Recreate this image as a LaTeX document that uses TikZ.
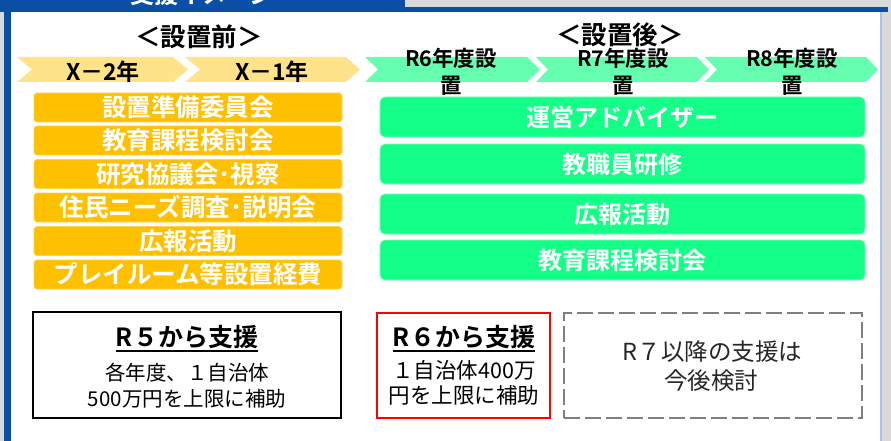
\documentclass[tikz,border=0pt]{standalone}
\usepackage{fontspec}
\setmainfont{Noto Sans CJK JP}[BoldFont={Noto Sans CJK JP Bold}]
\definecolor{pagegray}{HTML}{D9D9D9}
\definecolor{frameblue}{HTML}{0A4FA3}
\definecolor{lightframe}{HTML}{A9C4E8}
\definecolor{chevyellow}{HTML}{FFE38A}
\definecolor{chevgreen}{HTML}{66FFB0}
\definecolor{boxorange}{HTML}{FFC000}
\definecolor{boxgreen}{HTML}{14FF87}
\definecolor{dashgray}{HTML}{7F7F7F}
\tikzset{
  headtext/.style={inner sep=0pt, font=\bfseries\fontsize{25.5}{25.5}\selectfont},
  chevtext/.style={inner sep=0pt, font=\bfseries\fontsize{23}{23}\selectfont},
  chevgtext/.style={inner sep=0pt, align=center, font=\bfseries\fontsize{21.5}{27}\selectfont},
  obox/.style={fill=boxorange, draw=boxorange!70!white, line width=0.6pt, rounded corners=3pt,
    minimum width=308pt, minimum height=29pt, inner sep=0pt, text=white,
    font=\bfseries\fontsize{24.5}{24.5}\selectfont},
  gbox/.style={fill=boxgreen, draw=boxgreen!60!white, line width=0.6pt, rounded corners=5pt,
    minimum width=485pt, minimum height=40pt, inner sep=0pt, text=white,
    font=\bfseries\fontsize{24}{24}\selectfont},
  supbox/.style={inner sep=0pt, line width=2pt},
  suptitle/.style={inner sep=0pt, font=\bfseries\fontsize{25}{25}\selectfont},
  suptext/.style={inner sep=0pt, align=center, font=\fontsize{20.5}{20.5}\selectfont},
  dashtext/.style={inner sep=0pt, text=black!85, font=\fontsize{23.5}{23.5}\selectfont},
  ulinestyle/.style={line width=1.5pt},
}
\begin{document}
\begin{tikzpicture}[x=1pt,y=-1pt]
\useasboundingbox (0,0) rectangle (891,441);
% frame
\fill[pagegray] (0,0) rectangle (891,441);
\fill[white] (11,12) rectangle (880,441);
\fill[frameblue] (0,0) rectangle (405,7);
\fill[frameblue] (0,7) rectangle (888,12);
\fill[frameblue] (4,12) rectangle (11,441);
\fill[lightframe] (879.5,12) rectangle (881.5,441);
\begin{scope}
  \clip (0,0) rectangle (405,7);
  \node[inner sep=0pt, text=white, font=\bfseries\fontsize{24}{24}\selectfont] (title) at (202,-6) {支援イメージ};
\end{scope}
% headings
\node[headtext] (before) at (199,36.5) {＜設置前＞};
\node[headtext] (after) at (620,35) {＜設置後＞};
% chevrons
\fill[chevyellow] (17,57) -- (173,57) -- (188,69.5) -- (173,82) -- (17,82) -- (32,69.5) -- cycle;
\fill[chevyellow] (185,57) -- (346,57) -- (360,69.5) -- (346,82) -- (185,82) -- (200,69.5) -- cycle;
\fill[chevgreen] (365,57) -- (527,57) -- (540,69.5) -- (527,82) -- (365,82) -- (378,69.5) -- cycle;
\fill[chevgreen] (536,57) -- (697,57) -- (709,69.5) -- (697,82) -- (536,82) -- (548,69.5) -- cycle;
\fill[chevgreen] (705,57) -- (866,57) -- (878,69.5) -- (866,82) -- (705,82) -- (717,69.5) -- cycle;
\node[chevtext] (xm2) at (103,72) {X－2年};
\node[chevtext] (xm1) at (272,72) {X－1年};
\node[chevgtext] (r6) at (451,71.5) {R6年度設\\置};
\node[chevgtext] (r7) at (623,71.5) {R7年度設\\置};
\node[chevgtext] (r8) at (792,71.5) {R8年度設\\置};
% orange boxes
\node[obox] (o1) at (188,107.5) {設置準備委員会};
\node[obox] (o2) at (188,140.5) {教育課程検討会};
\node[obox] (o3) at (188,174) {研究協議会･視察};
\node[obox] (o4) at (188,207.5) {住民ニーズ調査･説明会};
\node[obox] (o5) at (188,241) {広報活動};
\node[obox] (o6) at (188,274.5) {プレイルーム等設置経費};
% green boxes
\node[gbox] (g1) at (622.5,117) {運営アドバイザー};
\node[gbox] (g2) at (622.5,164) {教職員研修};
\node[gbox] (g3) at (622.5,214) {広報活動};
\node[gbox] (g4) at (622.5,260) {教育課程検討会};
% support boxes
\node[supbox, draw=black, minimum width=308pt, minimum height=106pt] (s1) at (187,365) {};
\node[supbox, draw=red, minimum width=173pt, minimum height=105pt] (s2) at (463.5,365.5) {};
\node[supbox, draw=dashgray, line width=1.6pt, dash pattern=on 16pt off 5pt, minimum width=298pt, minimum height=105pt] (s3) at (713,365.5) {};
\node[suptitle] (s1t) at (187,337.5) {R５から支援};
\draw[ulinestyle] ([yshift=-1.5pt]s1t.south west) -- ([yshift=-1.5pt]s1t.south east);
\node[suptext] (s1a) at (187,372.5) {各年度、１自治体};
\node[suptext] (s1b) at (187,398.5) {500万円を上限に補助};
\node[suptitle] (s2t) at (464,337.5) {R６から支援};
\draw[ulinestyle] ([yshift=-1.5pt]s2t.south west) -- ([yshift=-1.5pt]s2t.south east);
\node[suptext, font=\fontsize{21.5}{21.5}\selectfont] (s2a) at (464,370) {１自治体400万};
\node[suptext, font=\fontsize{21.5}{21.5}\selectfont] (s2b) at (464,395) {円を上限に補助};
\node[dashtext] (s3a) at (712.5,351.5) {R７以降の支援は};
\node[dashtext] (s3b) at (711,381) {今後検討};
\end{tikzpicture}
\end{document}
